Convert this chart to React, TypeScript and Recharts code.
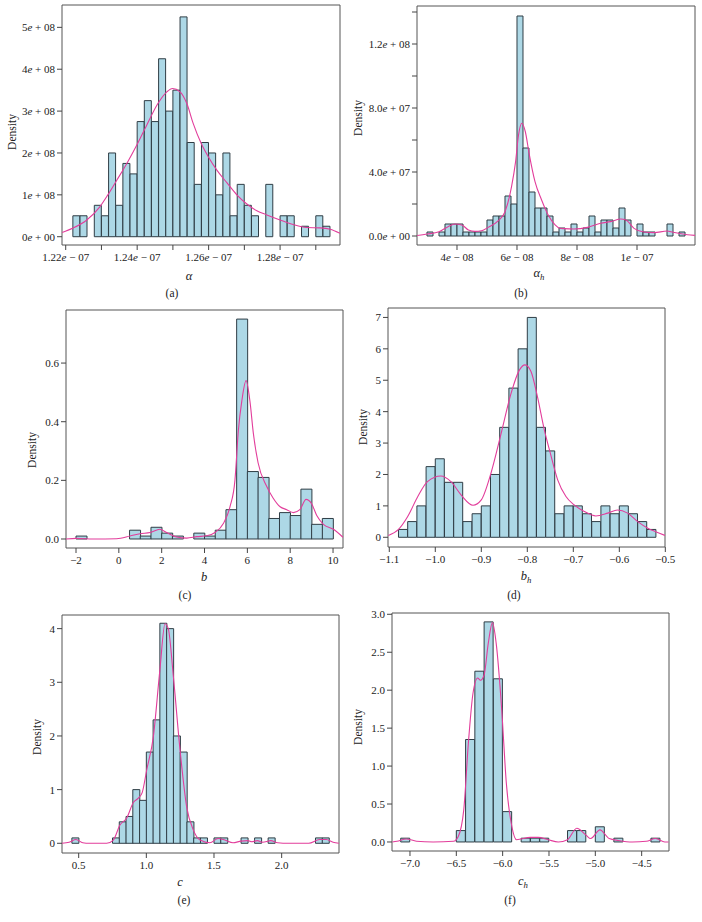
import React from "react";
import {
  ComposedChart,
  Bar,
  Line,
  XAxis,
  YAxis,
  ReferenceArea,
} from "recharts";

// (a) alpha — bins in 1e-07, density in 1e+08
const alphaBinStart = 1.222;
const alphaBinWidth = 0.002;
const alphaHeights = [0.5, 0.5, 0, 0.75, 0.5, 2.0, 0.75, 1.75, 1.5, 2.75, 3.25, 2.75, 4.25, 3.0, 3.5, 5.25, 2.25, 1.25, 2.25, 2.0, 1.0, 2.0, 0.5, 1.25, 0.75, 0.5, 0, 1.25, 0, 0.5, 0.5, 0, 0.25, 0, 0.5, 0.25];
const alphaCurveX = [1.219, 1.2219, 1.2259, 1.2296, 1.2318, 1.2343, 1.2371, 1.2399, 1.2427, 1.2458, 1.2483, 1.2499, 1.252, 1.2539, 1.2557, 1.2579, 1.2599, 1.2623, 1.2651, 1.2679, 1.2707, 1.2735, 1.2763, 1.28, 1.2837, 1.2874, 1.2912, 1.294, 1.2968];
const alphaCurveY = [0.1, 0.2, 0.4, 0.72, 1.0, 1.35, 1.75, 2.19, 2.67, 3.18, 3.46, 3.54, 3.46, 3.18, 2.7, 2.23, 1.91, 1.59, 1.29, 1.0, 0.78, 0.62, 0.52, 0.4, 0.29, 0.22, 0.21, 0.18, 0.08];
const alphaXTicks = [1.22, 1.23, 1.24, 1.25, 1.26, 1.27, 1.28, 1.29];
const alphaXLabels = ["1.22e − 07", "", "1.24e − 07", "", "1.26e − 07", "", "1.28e − 07", ""];
const alphaYTicks = [0, 1, 2, 3, 4, 5];
const alphaYLabels = ["0e + 00", "1e + 08", "2e + 08", "3e + 08", "4e + 08", "5e + 08"];

// (b) alpha_h — bins in 1e-08, density in 1e+07
const alphaHBinStart = 3.0;
const alphaHBinWidth = 0.2;
const alphaHHeights = [0.25, 0, 0.25, 0.75, 0.75, 0.75, 0.25, 0.25, 0.25, 0.25, 1.0, 1.25, 1.25, 2.5, 2.0, 13.75, 5.5, 2.75, 1.75, 1.75, 1.25, 0.25, 0.5, 0.25, 0.75, 0.25, 0.5, 1.25, 0.25, 1.0, 1.0, 0.5, 1.75, 1.0, 0, 0.75, 0.25, 0.25, 0, 0, 0.75, 0, 0.25];
const alphaHCurveX = [2.67, 3.0, 3.4, 3.7, 3.93, 4.16, 4.38, 4.6, 4.82, 5.04, 5.38, 5.6, 5.82, 5.95, 6.05, 6.16, 6.28, 6.4, 6.6, 6.82, 7.04, 7.27, 7.43, 7.57, 7.9, 8.35, 8.79, 9.12, 9.46, 9.63, 9.9, 10.23, 10.57, 11.0, 11.2, 11.68, 11.93];
const alphaHCurveY = [0.03, 0.12, 0.27, 0.58, 0.75, 0.69, 0.38, 0.29, 0.33, 0.54, 0.96, 1.52, 3.1, 4.6, 6.3, 7.05, 6.5, 5.2, 3.4, 2.25, 1.31, 0.69, 0.48, 0.46, 0.44, 0.54, 0.8, 0.9, 1.06, 1.0, 0.48, 0.25, 0.21, 0.31, 0.23, 0.08, 0.04];
const alphaHXTicks = [4, 6, 8, 10];
const alphaHXLabels = ["4e − 08", "6e − 08", "8e − 08", "1e − 07"];
const alphaHYTicks = [0, 2, 4, 6, 8, 10, 12, 14];
const alphaHYLabels = ["0.0e + 00", "", "4.0e + 07", "", "8.0e + 07", "", "1.2e + 08", ""];

// (c) b
const bBinStart = -2;
const bBinWidth = 0.5;
const bHeights = [0.01, 0, 0, 0, 0, 0.03, 0.01, 0.04, 0.02, 0.01, 0, 0.02, 0.01, 0.03, 0.1, 0.75, 0.23, 0.21, 0.07, 0.09, 0.08, 0.17, 0.05, 0.07];
const bCurveX = [-2.47, -1.97, -1.19, -0.1, 0.52, 0.99, 1.46, 1.92, 2.23, 2.7, 3.17, 3.64, 4.1, 4.49, 4.88, 5.19, 5.42, 5.58, 5.74, 5.94, 6.12, 6.28, 6.5, 6.9, 7.2, 7.53, 7.84, 8.15, 8.45, 8.74, 9.0, 9.24, 9.55, 10.02, 10.46];
const bCurveY = [0, 0.002, 0, 0.001, 0.01, 0.018, 0.022, 0.033, 0.022, 0.007, 0.003, 0.008, 0.011, 0.022, 0.053, 0.11, 0.2, 0.37, 0.47, 0.54, 0.47, 0.36, 0.26, 0.18, 0.14, 0.11, 0.1, 0.09, 0.1, 0.135, 0.12, 0.08, 0.05, 0.033, 0.006];
const bXTicks = [-2, 0, 2, 4, 6, 8, 10];
const bXLabels = ["−2", "0", "2", "4", "6", "8", "10"];
const bYTicks = [0, 0.2, 0.4, 0.6];
const bYLabels = ["0.0", "0.2", "0.4", "0.6"];

// (d) b_h
const bHBinStart = -1.08;
const bHBinWidth = 0.02;
const bHHeights = [0.25, 0.5, 1.0, 2.25, 2.5, 1.75, 1.75, 0.5, 0.75, 1.0, 2.0, 3.5, 4.75, 6.0, 7.0, 3.5, 2.75, 0.75, 1.0, 1.0, 0.75, 0.5, 1.0, 0.75, 1.0, 0.75, 0.5, 0.25];
const bHCurveX = [-1.102, -1.08, -1.06, -1.038, -1.017, -0.988, -0.966, -0.944, -0.918, -0.9, -0.879, -0.857, -0.835, -0.817, -0.805, -0.792, -0.778, -0.763, -0.75, -0.734, -0.716, -0.698, -0.676, -0.651, -0.625, -0.604, -0.582, -0.56, -0.538, -0.521, -0.501];
const bHCurveY = [0.06, 0.25, 0.66, 1.3, 1.77, 1.95, 1.77, 1.35, 1.02, 1.19, 2.04, 3.3, 4.6, 5.33, 5.49, 5.28, 4.48, 3.42, 2.68, 1.83, 1.3, 1.03, 0.82, 0.68, 0.77, 0.87, 0.77, 0.5, 0.29, 0.18, 0.06];
const bHXTicks = [-1.1, -1.0, -0.9, -0.8, -0.7, -0.6, -0.5];
const bHXLabels = ["−1.1", "−1.0", "−0.9", "−0.8", "−0.7", "−0.6", "−0.5"];
const bHYTicks = [0, 1, 2, 3, 4, 5, 6, 7];
const bHYLabels = ["0", "1", "2", "3", "4", "5", "6", "7"];

// (e) c
const cBinStart = 0.45;
const cBinWidth = 0.05;
const cHeights = [0.1, 0, 0, 0, 0, 0, 0.1, 0.4, 0.5, 1.0, 0.8, 1.7, 2.3, 4.1, 4.0, 2.0, 1.7, 0.4, 0.1, 0.1, 0, 0.1, 0.1, 0, 0, 0.1, 0, 0.1, 0, 0.1, 0, 0, 0, 0, 0, 0, 0.1, 0.1];
const cCurveX = [0.377, 0.43, 0.48, 0.53, 0.58, 0.707, 0.756, 0.805, 0.855, 0.904, 0.941, 0.97, 1.003, 1.052, 1.1, 1.138, 1.162, 1.2, 1.249, 1.298, 1.347, 1.397, 1.47, 1.53, 1.58, 1.64, 1.7, 1.75, 1.78, 1.82, 1.86, 1.92, 1.97, 2.05, 2.2, 2.28, 2.33, 2.38, 2.423];
const cCurveY = [0, 0.02, 0.07, 0.01, 0, 0, 0.06, 0.34, 0.47, 0.76, 0.84, 0.95, 1.37, 1.99, 3.23, 4.09, 4.0, 3.1, 1.74, 0.68, 0.25, 0.06, 0.01, 0.09, 0.06, 0.01, 0.04, 0.05, 0.03, 0.05, 0.02, 0.05, 0.01, 0, 0, 0.07, 0.07, 0.02, 0];
const cXTicks = [0.5, 1.0, 1.5, 2.0];
const cXLabels = ["0.5", "1.0", "1.5", "2.0"];
const cYTicks = [0, 1, 2, 3, 4];
const cYLabels = ["0", "1", "2", "3", "4"];

// (f) c_h
const cHBinStart = -7.1;
const cHBinWidth = 0.1;
const cHHeights = [0.05, 0, 0, 0, 0, 0, 0.15, 1.35, 2.25, 2.9, 2.15, 0.4, 0, 0.05, 0.05, 0.05, 0, 0, 0.15, 0.15, 0, 0.2, 0, 0.05, 0, 0, 0, 0.05];
const cHCurveX = [-7.19, -7.14, -7.04, -6.93, -6.75, -6.53, -6.48, -6.42, -6.37, -6.32, -6.27, -6.24, -6.2, -6.155, -6.11, -6.07, -6.01, -5.96, -5.9, -5.85, -5.7, -5.615, -5.51, -5.4, -5.3, -5.2, -5.1, -5.05, -4.95, -4.85, -4.75, -4.6, -4.45, -4.35, -4.25, -4.21];
const cHCurveY = [0, 0.01, 0.04, 0.01, 0, 0.01, 0.07, 0.42, 1.3, 1.96, 2.16, 2.13, 2.2, 2.62, 2.89, 2.62, 1.74, 0.77, 0.2, 0.03, 0.06, 0.06, 0.03, 0, 0.03, 0.18, 0.09, 0.045, 0.16, 0.045, 0.02, 0, 0.01, 0.045, 0, 0];
const cHXTicks = [-7.0, -6.5, -6.0, -5.5, -5.0, -4.5];
const cHXLabels = ["−7.0", "−6.5", "−6.0", "−5.5", "−5.0", "−4.5"];
const cHYTicks = [0, 0.5, 1.0, 1.5, 2.0, 2.5, 3.0];
const cHYLabels = ["0.0", "0.5", "1.0", "1.5", "2.0", "2.5", "3.0"];

const FONT = '"Liberation Serif", "DejaVu Serif", serif';
const BAR_FILL = "#ADD8E6";
const BAR_EDGE = "#2F3D45";
const CURVE = "#E23D9B";
const Y_W = 70;
const PAD = 4;
const PAD_R = 24;
const X_H = 26;

const toBins = (start: number, width: number, heights: number[]) =>
  heights.map((h, i) => ({ x: +(start + width * (i + 0.5)).toFixed(6), h }));

const toCurve = (xs: number[], ys: number[]) => xs.map((x, i) => ({ x, d: ys[i] }));

function AxisTick(props: any) {
  const { x, y, payload, ticks, labels, side } = props;
  const i = ticks.findIndex((t: number) => Math.abs(t - payload.value) < 1e-7);
  const label = i >= 0 ? labels[i] : "";
  if (!label) return null;
  const k = label.indexOf("e");
  return (
    <text
      x={x}
      y={y}
      dy={side === "x" ? "0.71em" : "0.355em"}
      textAnchor={side === "x" ? "middle" : "end"}
      fontSize={11}
      fill="#222"
      style={{ whiteSpace: "pre", fontFamily: FONT }}
    >
      {k >= 0 ? (
        <>
          {label.slice(0, k)}
          <tspan fontStyle="italic">e</tspan>
          {label.slice(k + 1)}
        </>
      ) : (
        label
      )}
    </text>
  );
}

interface PanelProps {
  box: [number, number, number, number];
  xDomain: [number, number];
  yDomain: [number, number];
  bins: { x: number; h: number }[];
  curve: { x: number; d: number }[];
  xTicks: number[];
  xLabels: string[];
  yTicks: number[];
  yLabels: string[];
  title: React.ReactNode;
  titlePos: [number, number];
  caption: string;
  captionPos: [number, number];
  densityPos: [number, number];
}

function Panel(p: PanelProps) {
  const [bx, by, bw, bh] = p.box;
  return (
    <>
      <div style={{ position: "absolute", left: bx - Y_W, top: by - PAD }}>
        <ComposedChart
          width={Y_W + bw + PAD_R}
          height={PAD + bh + X_H}
          data={p.bins}
          margin={{ top: PAD, right: PAD_R, left: 0, bottom: 0 }}
          barCategoryGap={0}
          barGap={0}
        >
          <XAxis
            xAxisId="bins"
            type="number"
            dataKey="x"
            domain={p.xDomain}
            allowDataOverflow
            ticks={p.xTicks}
            interval={0}
            tickSize={5}
            tickMargin={3}
            axisLine={false}
            stroke="#444"
            height={X_H}
            tick={(t: any) => <AxisTick {...t} ticks={p.xTicks} labels={p.xLabels} side="x" />}
          />
          <XAxis xAxisId="curve" type="number" dataKey="x" domain={p.xDomain} allowDataOverflow hide />
          <YAxis
            type="number"
            domain={p.yDomain}
            allowDataOverflow
            ticks={p.yTicks}
            interval={0}
            width={Y_W}
            tickSize={5}
            tickMargin={2}
            axisLine={false}
            stroke="#444"
            tick={(t: any) => <AxisTick {...t} ticks={p.yTicks} labels={p.yLabels} side="y" />}
          />
          <Bar
            xAxisId="bins"
            dataKey="h"
            fill={BAR_FILL}
            stroke={BAR_EDGE}
            strokeWidth={1}
            isAnimationActive={false}
          />
          <Line
            xAxisId="curve"
            data={p.curve}
            dataKey="d"
            type="monotone"
            stroke={CURVE}
            strokeWidth={1.1}
            dot={false}
            isAnimationActive={false}
          />
          <ReferenceArea
            xAxisId="bins"
            x1={p.xDomain[0]}
            x2={p.xDomain[1]}
            y1={p.yDomain[0]}
            y2={p.yDomain[1]}
            fill="none"
            stroke="#555"
            strokeWidth={1}
            ifOverflow="visible"
          />
        </ComposedChart>
      </div>
      <div
        style={{
          position: "absolute",
          left: p.densityPos[0],
          top: p.densityPos[1],
          transform: "translate(-50%, -50%) rotate(-90deg)",
          fontSize: 11.5,
          color: "#222",
          whiteSpace: "nowrap",
        }}
      >
        Density
      </div>
      <div
        style={{
          position: "absolute",
          left: p.titlePos[0],
          top: p.titlePos[1],
          transform: "translate(-50%, -50%)",
          fontSize: 12.5,
          fontStyle: "italic",
          color: "#222",
          whiteSpace: "nowrap",
        }}
      >
        {p.title}
      </div>
      <div
        style={{
          position: "absolute",
          left: p.captionPos[0],
          top: p.captionPos[1],
          transform: "translate(-50%, -50%)",
          fontSize: 11.5,
          color: "#222",
          whiteSpace: "nowrap",
        }}
      >
        {p.caption}
      </div>
    </>
  );
}

const Sub = ({ base }: { base: string }) => (
  <span>
    {base}
    <sub style={{ fontSize: "0.7em" }}>h</sub>
  </span>
);

export default function App() {
  return (
    <div
      style={{
        position: "absolute",
        left: 0,
        top: 0,
        width: 702,
        height: 922,
        background: "#fff",
        fontFamily: FONT,
      }}
    >
      <Panel
        box={[62, 5, 278, 240]}
        xDomain={[1.21896, 1.29677]}
        yDomain={[-0.198, 5.534]}
        bins={toBins(alphaBinStart, alphaBinWidth, alphaHeights)}
        curve={toCurve(alphaCurveX, alphaCurveY)}
        xTicks={alphaXTicks}
        xLabels={alphaXLabels}
        yTicks={alphaYTicks}
        yLabels={alphaYLabels}
        title="α"
        titlePos={[189, 276]}
        caption="(a)"
        captionPos={[172, 293]}
        densityPos={[12, 132]}
      />
      <Panel
        box={[417, 6, 278, 239]}
        xDomain={[2.667, 11.933]}
        yDomain={[-0.5625, 14.375]}
        bins={toBins(alphaHBinStart, alphaHBinWidth, alphaHHeights)}
        curve={toCurve(alphaHCurveX, alphaHCurveY)}
        xTicks={alphaHXTicks}
        xLabels={alphaHXLabels}
        yTicks={alphaHYTicks}
        yLabels={alphaHYLabels}
        title={<Sub base="α" />}
        titlePos={[539, 274]}
        caption="(b)"
        captionPos={[521, 293]}
        densityPos={[358, 118]}
      />
      <Panel
        box={[66, 310, 277, 238]}
        xDomain={[-2.467, 10.465]}
        yDomain={[-0.0307, 0.781]}
        bins={toBins(bBinStart, bBinWidth, bHeights)}
        curve={toCurve(bCurveX, bCurveY)}
        xTicks={bXTicks}
        xLabels={bXLabels}
        yTicks={bYTicks}
        yLabels={bYLabels}
        title="b"
        titlePos={[204, 577]}
        caption="(c)"
        captionPos={[185, 595]}
        densityPos={[32, 450]}
      />
      <Panel
        box={[388, 308, 277, 239]}
        xDomain={[-1.1028, -0.5007]}
        yDomain={[-0.309, 7.3]}
        bins={toBins(bHBinStart, bHBinWidth, bHHeights)}
        curve={toCurve(bHCurveX, bHCurveY)}
        xTicks={bHXTicks}
        xLabels={bHXLabels}
        yTicks={bHYTicks}
        yLabels={bHYLabels}
        title={<Sub base="b" />}
        titlePos={[526, 577]}
        caption="(d)"
        captionPos={[514, 595]}
        densityPos={[363, 427]}
      />
      <Panel
        box={[62, 615, 277, 238]}
        xDomain={[0.3768, 2.4237]}
        yDomain={[-0.181, 4.254]}
        bins={toBins(cBinStart, cBinWidth, cHeights)}
        curve={toCurve(cCurveX, cCurveY)}
        xTicks={cXTicks}
        xLabels={cXLabels}
        yTicks={cYTicks}
        yLabels={cYLabels}
        title="c"
        titlePos={[180, 882]}
        caption="(e)"
        captionPos={[184, 900]}
        densityPos={[37, 737]}
      />
      <Panel
        box={[392, 613, 277, 238]}
        xDomain={[-7.194, -4.205]}
        yDomain={[-0.119, 3.017]}
        bins={toBins(cHBinStart, cHBinWidth, cHHeights)}
        curve={toCurve(cHCurveX, cHCurveY)}
        xTicks={cHXTicks}
        xLabels={cHXLabels}
        yTicks={cHYTicks}
        yLabels={cHYLabels}
        title={<Sub base="c" />}
        titlePos={[523, 882]}
        caption="(f)"
        captionPos={[510, 900]}
        densityPos={[358, 727]}
      />
    </div>
  );
}
